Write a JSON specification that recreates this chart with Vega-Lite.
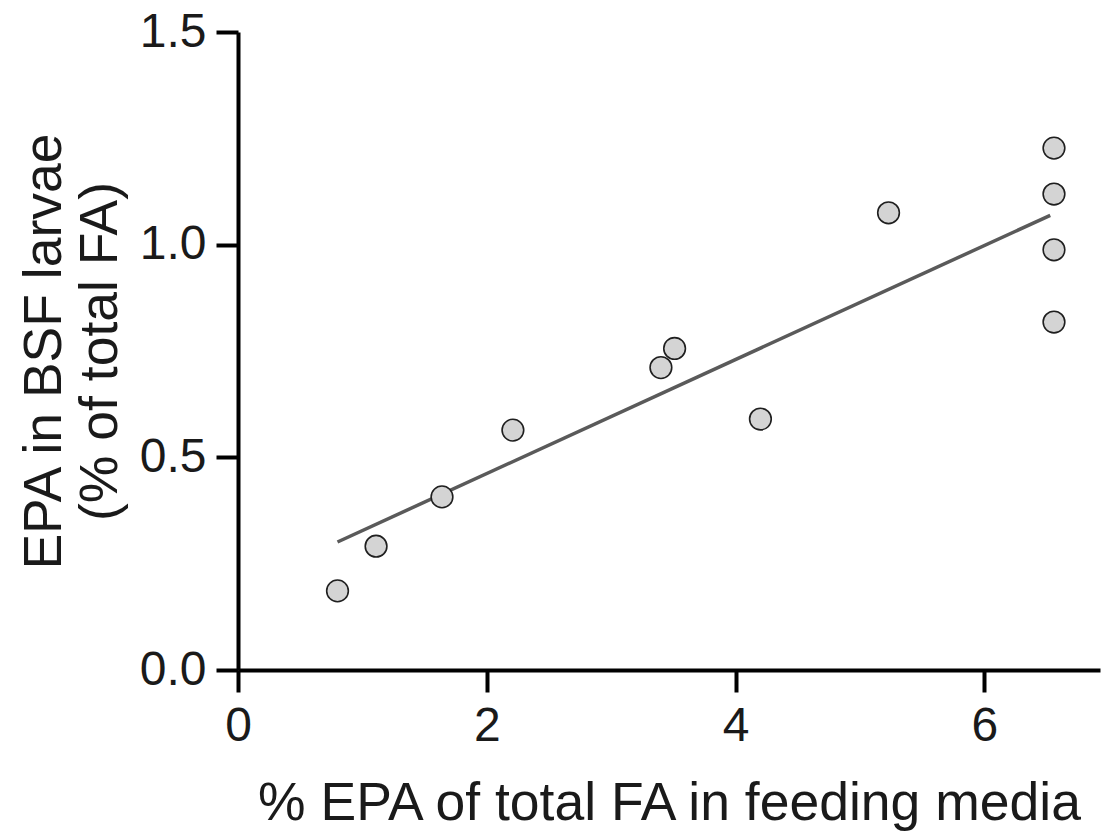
{
  "$schema": "https://vega.github.io/schema/vega-lite/v6.json",
  "autosize": "none",
  "width": 862,
  "height": 638,
  "padding": {"left": 238, "top": 32, "right": 2, "bottom": 164},
  "background": "white",
  "config": {
    "view": {"stroke": null},
    "font": "Liberation Sans",
    "axis": {
      "grid": false,
      "domainColor": "#000000",
      "domainWidth": 4,
      "tickColor": "#000000",
      "tickWidth": 4,
      "tickSize": 22,
      "labelFont": "Liberation Sans",
      "labelFontSize": 48,
      "labelColor": "#1a1a1a",
      "labelPadding": 10,
      "labelFlush": false,
      "titleFont": "Liberation Sans",
      "titleFontSize": 53.5,
      "titleFontWeight": "normal",
      "titleColor": "#1a1a1a"
    }
  },
  "datasets": {
    "points": [
      {"media": 0.80, "larvae": 0.186},
      {"media": 1.11, "larvae": 0.291},
      {"media": 1.64, "larvae": 0.407},
      {"media": 2.21, "larvae": 0.564},
      {"media": 3.40, "larvae": 0.711},
      {"media": 3.51, "larvae": 0.756},
      {"media": 4.20, "larvae": 0.590},
      {"media": 5.23, "larvae": 1.075},
      {"media": 6.56, "larvae": 1.227},
      {"media": 6.56, "larvae": 1.119},
      {"media": 6.56, "larvae": 0.988},
      {"media": 6.56, "larvae": 0.818}
    ],
    "fit": [
      {"media": 0.80, "larvae": 0.301},
      {"media": 6.53, "larvae": 1.069}
    ]
  },
  "layer": [
    {
      "data": {"name": "fit"},
      "mark": {"type": "line", "color": "#5a5a5a", "strokeWidth": 3.5, "clip": false},
      "encoding": {
        "x": {"field": "media", "type": "quantitative"},
        "y": {"field": "larvae", "type": "quantitative"}
      }
    },
    {
      "data": {"name": "points"},
      "mark": {"type": "point", "shape": "circle", "filled": true, "fill": "#d4d4d4", "stroke": "#1f1f1f", "strokeWidth": 1.6, "opacity": 1, "size": 470, "clip": false},
      "encoding": {
        "x": {
          "field": "media",
          "type": "quantitative",
          "scale": {"domain": [0, 6.93], "nice": false, "zero": false},
          "axis": {"values": [0, 2, 4, 6], "format": "d", "title": "% EPA of total FA in feeding media", "titlePadding": 27}
        },
        "y": {
          "field": "larvae",
          "type": "quantitative",
          "scale": {"domain": [0, 1.5], "nice": false},
          "axis": {"values": [0, 0.5, 1.0, 1.5], "format": ".1f", "title": ["EPA in BSF larvae", "(% of total FA)"], "titleLineHeight": 56, "titlePadding": 12}
        }
      }
    }
  ]
}
